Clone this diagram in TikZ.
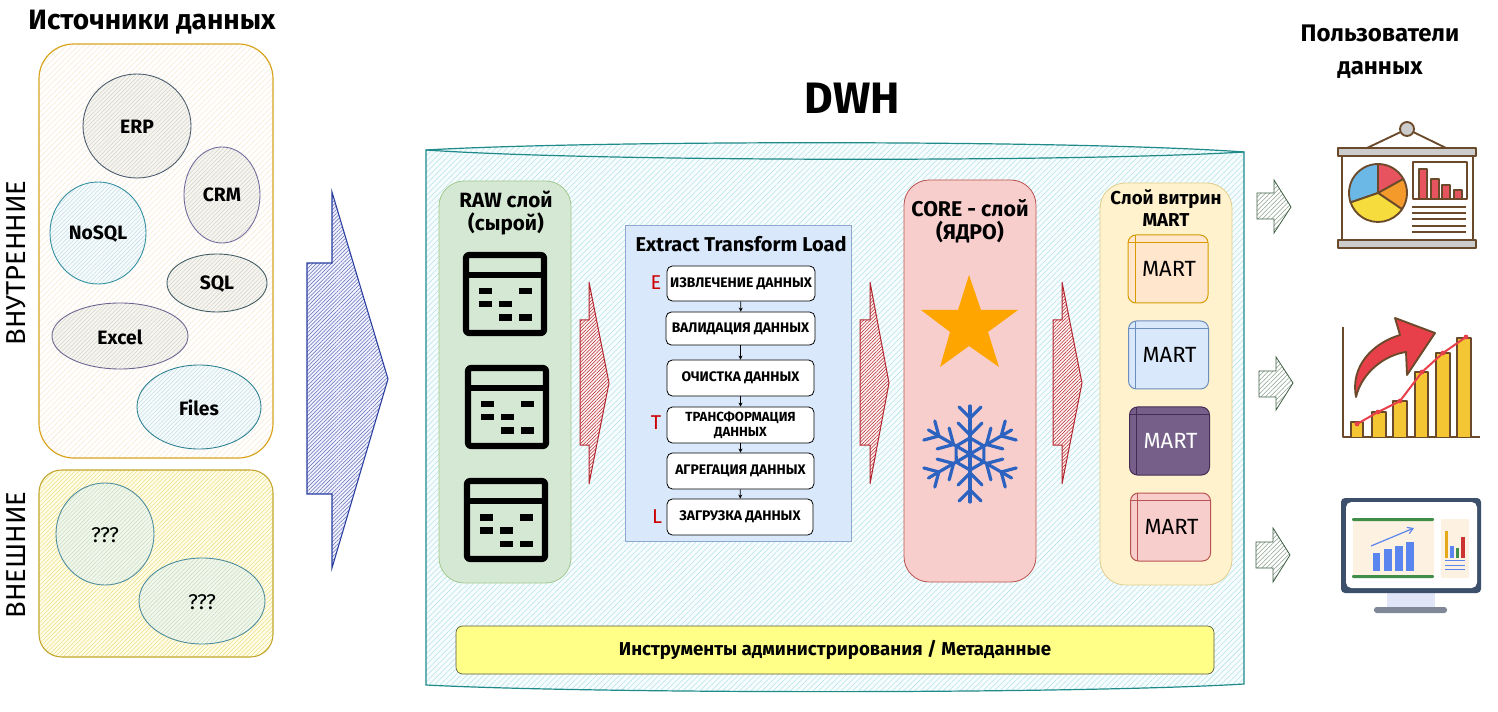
\documentclass[tikz,border=0pt]{standalone}
\usepackage{fontspec}
\setmainfont{Fira Sans}
\usetikzlibrary{patterns.meta,arrows.meta,shapes.geometric}
\def\pxu{0.75}
\newcommand{\pxnode}[7]{%
  \pgfmathsetmacro\pw{(#4-#2)*\pxu}\pgfmathsetmacro\ph{(#5-#3)*\pxu}%
  \pgfmathsetmacro\pcx{(#2+#4)/2}\pgfmathsetmacro\pcy{(#3+#5)/2}%
  \node[inner sep=0pt,align=center,minimum width=\pw pt,minimum height=\ph pt,#6] (#1) at (\pcx,\pcy) {#7};}
\newcommand{\elnode}[6]{%
  \pgfmathsetmacro\pw{2*#3*\pxu}\pgfmathsetmacro\ph{2*#4*\pxu}%
  \node[ellipse,draw=#5,line width=.65pt,inner sep=0pt,align=center,minimum width=\pw pt,minimum height=\ph pt,#6] at (#1,#2) {};}
\newcommand{\blockarrow}[9]{%
  \draw[#9] (#1,#2) -- (#4,#2) -- (#4,#5) -- (#6,#7) -- (#4,#8) -- (#4,#3) -- (#1,#3) -- cycle;}
\newcommand{\tableicon}[2]{%
  \begin{scope}[shift={(#1,#2)}]
  \draw[line width=4.6pt,line join=round,rounded corners=2pt] (3,3) rectangle (81,81);
  \draw[line width=4.6pt] (3,23) -- (81,23);
  \fill (16,36) rectangle +(13,6.5);
  \fill (56,36) rectangle +(13,6.5);
  \fill (16,49) rectangle +(13,6.5);
  \fill (36,49) rectangle +(13,6.5);
  \fill (36,62.5) rectangle +(13,6.5);
  \fill (56,62.5) rectangle +(13,6.5);
  \end{scope}}
\newcommand{\martnode}[7]{%
  \pgfmathsetmacro\xb{#2+80}\pgfmathsetmacro\yb{#3+68}%
  \pxnode{#1}{#2}{#3}{\xb}{\yb}{draw=#5,fill=#4,rounded corners=6pt,line width=.75pt}{}%
  \begin{scope}[draw=#5,line width=.6pt]
   \draw ({#2+7},#3) -- ({#2+7},\yb);
   \draw (#2,{#3+7}) -- (\xb,{#3+7});
  \end{scope}
  \node[text=#6,font=\fontsize{16.5}{17}\selectfont] at ({#2+41},{#3+34}) {#7};}
\definecolor{brn}{HTML}{6B4A2B}
\definecolor{rawfill}{HTML}{D5E8D4}\definecolor{rawline}{HTML}{A3C98F}
\definecolor{etlfill}{HTML}{DAE8FC}\definecolor{etlline}{HTML}{8FA8D0}
\definecolor{corefill}{HTML}{F8CECC}\definecolor{coreline}{HTML}{B85450}
\definecolor{martfill}{HTML}{FFF2CC}\definecolor{martline}{HTML}{E0CE90}
\definecolor{m1f}{HTML}{FFE6CC}\definecolor{m1s}{HTML}{D79B00}
\definecolor{m2s}{HTML}{6C8EBF}
\definecolor{m3f}{HTML}{76608A}\definecolor{m3s}{HTML}{432D57}
\definecolor{m4s}{HTML}{B85450}
\definecolor{admfill}{HTML}{FFFF88}\definecolor{admline}{HTML}{5A5A40}
\definecolor{arrg}{HTML}{3F5F45}
\definecolor{pieb}{HTML}{6BB8E6}\definecolor{pier}{HTML}{E7545F}\definecolor{pieo}{HTML}{F49A2B}\definecolor{piey}{HTML}{F6DC3C}\definecolor{piey2}{HTML}{F5C633}
\definecolor{arrr}{HTML}{E8404A}
\definecolor{standc}{HTML}{E0E5F8}\definecolor{basec}{HTML}{808898}\definecolor{monc}{HTML}{3C4F6B}
\definecolor{beige}{HTML}{FDF2E2}\definecolor{greenl}{HTML}{3E8E4A}\definecolor{bluec}{HTML}{5B85EE}
\definecolor{starc}{HTML}{FFA500}\definecolor{flakec}{HTML}{2C62C0}
\definecolor{redl}{HTML}{B3262E}\definecolor{bluel}{HTML}{2A3EA0}
\definecolor{cyll}{HTML}{1F8A8A}\definecolor{cylh}{HTML}{B5E2E2}
\definecolor{intl}{HTML}{D9A520}\definecolor{inth}{HTML}{F7E8D2}
\definecolor{extl}{HTML}{C2A62E}\definecolor{exth}{HTML}{EDE07E}\definecolor{extf}{HTML}{FFFCEA}
\definecolor{grh}{HTML}{D4D4CC}\definecolor{grf}{HTML}{F6F5F0}
\definecolor{blh}{HTML}{C6DDE6}\definecolor{blf}{HTML}{F6FBFC}
\definecolor{yth}{HTML}{CCDDB8}\definecolor{ytf}{HTML}{F0F7EE}
\definecolor{el1}{HTML}{46586A}\definecolor{el2}{HTML}{6F6A9A}\definecolor{el3}{HTML}{2F8FA0}\definecolor{el4}{HTML}{3E5A62}\definecolor{el5}{HTML}{6A6490}\definecolor{el6}{HTML}{2A7F90}\definecolor{el7}{HTML}{4A8A9A}
\tikzset{
 hatch/.style n args={3}{preaction={fill=#1},pattern={Lines[angle=45,distance=#3,line width=.4pt]},pattern color=#2},
 ttl/.style={font=\bfseries\fontsize{21}{24}\selectfont,align=center},
 lbl/.style={font=\bfseries\fontsize{15.5}{17}\selectfont,align=center},
 elab/.style={font=\bfseries\fontsize{14.5}{15}\selectfont,align=center},
 etlbox/.style={draw=black,fill=white,rounded corners=4pt,line width=.6pt,font=\bfseries\fontsize{10.4}{11}\selectfont},
 redarrow/.style={draw=redl,line width=.75pt,hatch={red!4!white}{redl}{1.8pt}},
 grarrow/.style={draw=arrg,line width=.6pt,hatch={white}{arrg!60}{2.4pt}},
 flow/.style={-{Stealth[length=3pt,width=3pt]},line width=.6pt},
 letter/.style={text=red!80!black,font=\fontsize{15}{16}\selectfont},
 ico/.style={draw=brn,line width=1.4pt,line join=round},
 vlab/.style={rotate=90,font=\fontsize{20.5}{22}\selectfont},
}
\begin{document}
\begin{tikzpicture}[x=0.75pt,y=-0.75pt]
\useasboundingbox (0,0) rectangle (1498,712);
\fill[white] (0,0) rectangle (1498,712);
% titles
\node[ttl] (tsrc) at (152,22) {Источники данных};
\node[font=\bfseries\fontsize{18}{25}\selectfont,align=center] (tusr) at (1380,52) {Пользователи\\данных};
\node[font=\bfseries\fontsize{33}{36}\selectfont] (tdwh) at (852,98) {DWH};
\node[vlab] (tint) at (16,263) {ВНУТРЕННИЕ};
\node[vlab] (text) at (16,555) {ВНЕШНИЕ};
% sources
\pxnode{intbox}{39}{44}{273}{458}{draw=intl,rounded corners=26pt,line width=.9pt,hatch={white}{inth}{3pt}}{}
\pxnode{extbox}{39}{470}{273}{657}{draw=extl,rounded corners=17pt,line width=.8pt,hatch={extf}{exth}{2.2pt}}{}
\elnode{137}{126}{54}{52}{el1}{hatch={grf}{grh}{2.2pt}}
\elnode{222}{195}{38}{48}{el2}{hatch={grf}{grh}{2.2pt}}
\elnode{98}{233}{48}{51}{el3}{hatch={blf}{blh}{2.2pt}}
\elnode{217}{283}{50}{29}{el4}{hatch={grf}{grh}{2.2pt}}
\elnode{120}{336}{68}{33}{el5}{hatch={grf}{grh}{2.2pt}}
\elnode{199}{407}{62}{42}{el6}{hatch={blf}{blh}{2.2pt}}
\elnode{105}{534}{49}{51}{el7}{hatch={ytf}{yth}{2.2pt}}
\elnode{202}{601}{63}{43}{el7}{hatch={ytf}{yth}{2.2pt}}
\node[elab] (erp) at (137,127) {ERP};
\node[elab] (crm) at (222,195) {CRM};
\node[elab] (nosql) at (98,234) {NoSQL};
\node[elab] (sql) at (217,284) {SQL};
\node[elab] (excel) at (120,337) {Excel};
\node[elab] (files) at (199,408) {Files};
\node[elab,font=\fontsize{16}{17}\selectfont] (q1) at (105,535) {???};
\node[elab,font=\fontsize{16}{17}\selectfont] (q2) at (202,602) {???};
% big arrow
\blockarrow{307}{263}{494}{332}{192}{388}{379}{568}{draw=bluel,line width=.8pt,hatch={blue!5!white}{bluel!75}{2pt}}
% DWH cylinder
\draw[draw=cyll,line width=.9pt,hatch={cyan!3!white}{cylh}{3pt}]
  (426,150) .. controls (600,140) and (1080,140) .. (1244,152) -- (1244,684)
  .. controls (1080,694) and (600,694) .. (426,685) -- cycle;
\draw[draw=cyll,line width=.9pt] (426,150) .. controls (600,162) and (1080,162) .. (1244,152);
% RAW
\pxnode{raw}{439}{181}{571}{583}{draw=rawline,fill=rawfill,rounded corners=19pt,line width=.6pt}{}
\node[lbl] (rawt) at (506,213) {RAW слой\\(сырой)};
\tableicon{463}{252}\tableicon{465}{365}\tableicon{464}{478}
% ETL
\pxnode{etl}{625}{225}{851}{541}{draw=etlline,fill=etlfill,line width=.7pt}{}
\node[font=\bfseries\fontsize{15}{17}\selectfont] (etlt) at (741,244) {Extract Transform Load};
\pxnode{e1}{667}{266}{815}{301}{etlbox}{ИЗВЛЕЧЕНИЕ ДАННЫХ}
\pxnode{e2}{666}{312}{815}{345}{etlbox}{ВАЛИДАЦИЯ ДАННЫХ}
\pxnode{e3}{667}{360}{814}{396}{etlbox}{ОЧИСТКА ДАННЫХ}
\pxnode{e4}{667}{407}{814}{443}{etlbox,font=\bfseries\fontsize{9.9}{11}\selectfont}{ТРАНСФОРМАЦИЯ\\ДАННЫХ}
\pxnode{e5}{667}{453}{814}{489}{etlbox}{АГРЕГАЦИЯ ДАННЫХ}
\pxnode{e6}{667}{499}{813}{535}{etlbox}{ЗАГРУЗКА ДАННЫХ}
\draw[flow] (e1) -- (e2);
\draw[flow] (e2) -- (e3);
\draw[flow] (e3) -- (e4);
\draw[flow] (e4) -- (e5);
\draw[flow] (e5) -- (e6);
\node[letter] (le) at (656,283) {E};
\node[letter] (lt) at (656,423) {T};
\node[letter] (ll) at (657,517) {L};
% red arrows
\blockarrow{580}{320}{445}{589}{282}{609}{383}{484}{redarrow}
\blockarrow{860}{320}{445}{870}{282}{889}{383}{484}{redarrow}
\blockarrow{1053}{320}{445}{1062}{282}{1082}{383}{484}{redarrow}
% CORE
\pxnode{core}{904}{180}{1036}{582}{draw=coreline,fill=corefill,rounded corners=19pt,line width=.6pt}{}
\node[lbl,font=\bfseries\fontsize{16}{17}\selectfont] (coret) at (970,221) {CORE - слой\\(ЯДРО)};
\fill[starc] (969,275) -- (981,310) -- (1018,310) -- (988,332) -- (999,367) -- (969,346) -- (940,367) -- (950,332) -- (921,310) -- (958,310) -- cycle;
\begin{scope}[shift={(970,454)},draw=flakec,line width=2.4pt,line cap=round]
 \foreach \a in {0,60,...,300}{
  \begin{scope}[rotate=\a]
   \draw (0,0) -- (0,-48);
   \draw (-11,-47) -- (0,-36) -- (11,-47);
   \draw (-12,-31) -- (0,-19) -- (12,-31);
   \draw (0,-16) -- (13.9,-8);
  \end{scope}}
\end{scope}
% MART
\pxnode{mart}{1100}{183}{1232}{585}{draw=martline,fill=martfill,rounded corners=19pt,line width=.6pt}{}
\node[lbl,font=\bfseries\fontsize{14}{16}\selectfont] (martt) at (1166,208) {Слой витрин\\MART};
\martnode{m1}{1128}{235}{m1f}{m1s}{black}{MART}
\martnode{m2}{1128.5}{321}{etlfill}{m2s}{black}{MART}
\martnode{m3}{1129.5}{407}{m3f}{m3s}{white}{MART}
\martnode{m4}{1130.5}{493}{corefill}{m4s}{black}{MART}
% admin bar
\pxnode{adm}{456}{626}{1214}{674}{draw=admline,fill=admfill,rounded corners=5pt,line width=.5pt,font=\bfseries\fontsize{14}{16}\selectfont}{Инструменты администрирования / Метаданные}
% green arrows
\blockarrow{1257}{193}{219}{1274}{180}{1291}{207}{233}{grarrow}
\blockarrow{1259}{371}{397}{1276}{357}{1293}{383}{410}{grarrow}
\blockarrow{1256}{542}{568}{1273}{528}{1290}{555}{582}{grarrow}
% presentation icon
\draw[ico] (1367,148) -- (1407,129) -- (1446,148);
\draw[ico,fill=gray!40] (1407,129) circle[radius=7];
\draw[ico,fill=white] (1342,156) rectangle (1473,240);
\draw[ico,fill=gray!40] (1338,148) rectangle (1476,156);
\draw[ico,fill=gray!40] (1338,240) rectangle (1476,248);
\draw[ico,fill=pieb] (1378,193) -- ++(-90:29) arc[start angle=-90,end angle=-199,radius=29] -- cycle;
\draw[ico,fill=pier] (1378,193) -- ++(-90:29) arc[start angle=-90,end angle=-29,radius=29] -- cycle;
\draw[ico,fill=pieo] (1378,193) -- ++(-29:29) arc[start angle=-29,end angle=34,radius=29] -- cycle;
\draw[ico,fill=piey] (1378,193) -- ++(34:29) arc[start angle=34,end angle=161,radius=29] -- cycle;
\draw[ico] (1413,162) rectangle (1467,199);
\draw[ico,fill=pier] (1419,169) rectangle (1427,199);
\draw[ico,fill=pier] (1431,179) rectangle (1439,199);
\draw[ico,fill=pier] (1442,185) rectangle (1450,199);
\draw[ico,fill=pier] (1454,190) rectangle (1462,199);
\foreach \yy in {207,213,219,226,232}{\draw[ico] (1412,\yy) -- (1466,\yy);}
% growth icon
\draw[ico] (1343,327) -- (1343,437) -- (1480,437);
\foreach \xa/\xb/\yt in {1351/1363/422,1372/1386/412,1393/1407/401,1415/1428/372,1436/1450/353,1457/1471/338}{
 \draw[ico,fill=piey2] (\xa,437) -- (\xa,\yt) -- (\xb,\yt) -- (\xb,437);}
\draw[ico,fill=arrr] (1356,397) .. controls (1350,366) and (1373,343) .. (1400,335) -- (1395,318) -- (1435,333) -- (1407,375) -- (1406,352) .. controls (1385,355) and (1362,372) .. cycle;
\draw[arrr,line width=1.5pt] (1357,424) -- (1378,412) -- (1400,401) -- (1422,372) -- (1443,353) -- (1466,337);
\foreach \px/\py in {1357/424,1378/412,1400/401,1422/372,1443/353,1466/337}{\fill[arrr] (\px,\py) circle[radius=2.4];}
% monitor icon
\fill[standc] (1387,593) rectangle (1435,607);
\fill[basec,rounded corners=2pt] (1374,607) rectangle (1447,613);
\fill[monc,rounded corners=3pt] (1341,498) rectangle (1481,593);
\fill[white,rounded corners=4pt] (1346,502) rectangle (1477,588);
\fill[beige] (1353,519) rectangle (1434,577);
\fill[beige] (1441,519) rectangle (1469,578);
\fill[greenl,rounded corners=.8pt] (1352,518) rectangle (1434,521);
\fill[greenl,rounded corners=.8pt] (1352,575) rectangle (1434,578);
\foreach \xa/\xb/\yt in {1373/1380/553,1384/1392/549,1395/1403/546,1406/1414/542}{\fill[bluec] (\xa,\yt) rectangle (\xb,571);}
\draw[bluec,line width=.9pt,-{Straight Barb[length=4pt,width=5pt]}] (1371,546) -- (1414,528);
\fill[orange!60!yellow!80!gray] (1445,531) rectangle (1448,558);
\fill[bluec] (1450,546) rectangle (1454,558);
\fill[greenl] (1456,548) rectangle (1459,558);
\fill[red!60!gray] (1461,537) rectangle (1465,558);
\foreach \yy in {560,565,569}{\draw[bluec,line width=.7pt] (1445,\yy) -- (1465,\yy);}
\end{tikzpicture}
\end{document}
